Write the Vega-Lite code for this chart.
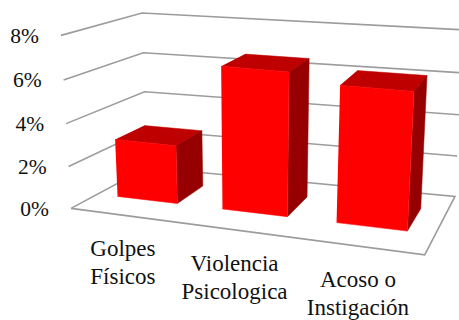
{
  "$schema": "https://vega.github.io/schema/vega-lite/v6.json",
  "width": 459,
  "height": 320,
  "padding": 0,
  "autosize": {"type": "fit", "contains": "padding"},
  "background": "white",
  "view": {"stroke": null},
  "datasets": {
    "bars": [
      {"category": "Golpes\nFísicos", "value": 2.8},
      {"category": "Violencia\nPsicologica", "value": 6.7},
      {"category": "Acoso o\nInstigación", "value": 6.3}
    ],
    "ticks": [{"level": 0}, {"level": 2}, {"level": 4}, {"level": 6}, {"level": 8}]
  },
  "encoding": {
    "x": {"field": "sx", "type": "quantitative", "scale": {"domain": [0, 459], "nice": false, "zero": false}, "axis": null},
    "y": {"field": "sy", "type": "quantitative", "scale": {"domain": [320, 0], "nice": false, "zero": false}, "axis": null}
  },
  "layer": [
    {
      "description": "Walls and floor: each level runs along the left wall and the back wall; level 0 also closes the floor",
      "data": {"name": "ticks"},
      "transform": [
        {"calculate": "[0,1,2,3,4]", "as": "vertex"},
        {"flatten": ["vertex"]},
        {"filter": "datum.level == 0 || datum.vertex <= 2"},
        {"calculate": "datum.vertex == 2 || datum.vertex == 3 ? 1 : 0", "as": "t"},
        {"calculate": "datum.vertex == 1 || datum.vertex == 2 ? 1 : 0", "as": "w"},
        {"calculate": "0.88*datum.t/(1-0.12*datum.t)", "as": "U"},
        {"calculate": "0.96*(datum.level/8)/(1-0.04*(datum.level/8))", "as": "H"},
        {"calculate": "(1-datum.H)*((1-datum.w)*((1-datum.U)*71+datum.U*424.7)+datum.w*((1-datum.U)*147+datum.U*455))+datum.H*((1-datum.w)*((1-datum.U)*61+datum.U*435)+datum.w*((1-datum.U)*142+datum.U*464))", "as": "sx"},
        {"calculate": "(1-datum.H)*((1-datum.w)*((1-datum.U)*209+datum.U*255.7)+datum.w*((1-datum.U)*168+datum.U*197))+datum.H*((1-datum.w)*((1-datum.U)*35.5+datum.U*68)+datum.w*((1-datum.U)*13+datum.U*30))", "as": "sy"}
      ],
      "mark": {"type": "line", "stroke": "#9c9c9c", "strokeWidth": 1.6, "clip": true},
      "encoding": {
        "detail": {"field": "level", "type": "nominal"},
        "order": {"field": "vertex", "type": "quantitative"}
      }
    },
    {
      "description": "Each bar is three filled faces projected from its value",
      "data": {"name": "bars"},
      "transform": [
        {"window": [{"op": "row_number", "as": "slot"}]},
        {"calculate": "['top','side','front']", "as": "face"},
        {"flatten": ["face"]},
        {"calculate": "[0,1,2,3]", "as": "vertex"},
        {"flatten": ["vertex"]},
        {"calculate": "(datum.slot-1+0.2)/3", "as": "t0"},
        {"calculate": "(datum.slot-0.22)/3", "as": "t1"},
        {"calculate": "datum.face == 'side' ? datum.t1 : (datum.vertex == 0 || datum.vertex == 3 ? datum.t0 : datum.t1)", "as": "t"},
        {"calculate": "datum.face == 'front' ? 0.35 : datum.face == 'side' ? (datum.vertex == 0 || datum.vertex == 3 ? 0.35 : 0.74) : (datum.vertex <= 1 ? 0.35 : 0.74)", "as": "w"},
        {"calculate": "datum.face == 'top' ? datum.value : (datum.vertex <= 1 ? 0 : datum.value)", "as": "level"},
        {"calculate": "0.88*datum.t/(1-0.12*datum.t)", "as": "U"},
        {"calculate": "0.96*(datum.level/8)/(1-0.04*(datum.level/8))", "as": "H"},
        {"calculate": "(1-datum.H)*((1-datum.w)*((1-datum.U)*71+datum.U*424.7)+datum.w*((1-datum.U)*147+datum.U*455))+datum.H*((1-datum.w)*((1-datum.U)*61+datum.U*435)+datum.w*((1-datum.U)*142+datum.U*464))", "as": "sx"},
        {"calculate": "(1-datum.H)*((1-datum.w)*((1-datum.U)*209+datum.U*255.7)+datum.w*((1-datum.U)*168+datum.U*197))+datum.H*((1-datum.w)*((1-datum.U)*35.5+datum.U*68)+datum.w*((1-datum.U)*13+datum.U*30))", "as": "sy"}
      ],
      "mark": {"type": "line", "strokeWidth": 0.5, "strokeJoin": "round"},
      "encoding": {
        "detail": {"field": "slot", "type": "nominal"},
        "order": {"field": "vertex", "type": "quantitative"},
        "fill": {"field": "face", "type": "nominal", "legend": null, "scale": {"domain": ["front", "side", "top"], "range": ["#ff0000", "#960000", "#be0000"]}},
        "stroke": {"field": "face", "type": "nominal", "legend": null, "scale": {"domain": ["front", "side", "top"], "range": ["#ff0000", "#960000", "#be0000"]}}
      }
    },
    {
      "description": "Percent labels follow the tilted front edge of the left wall",
      "data": {"name": "ticks"},
      "transform": [
        {"calculate": "datum.level + '%'", "as": "label"},
        {"calculate": "0.96*(datum.level/8)/(1-0.04*(datum.level/8))", "as": "H"},
        {"calculate": "(1-datum.H)*71+datum.H*61", "as": "sx"},
        {"calculate": "(1-datum.H)*209+datum.H*35.5", "as": "sy"}
      ],
      "mark": {"type": "text", "font": "Times, Tinos, Noto Serif, Nimbus Roman, FreeSerif, Noto Serif CJK SC, Liberation Serif", "fontSize": 21.5, "color": "#111111", "align": "right", "baseline": "middle", "dx": -22, "dy": 1.5},
      "encoding": {"text": {"field": "label", "type": "nominal"}}
    },
    {
      "description": "Category names hang below the front edge of the floor",
      "data": {"name": "bars"},
      "transform": [
        {"window": [{"op": "row_number", "as": "slot"}]},
        {"calculate": "(datum.slot-0.5)/3", "as": "t"},
        {"calculate": "0.86*datum.t/(1-0.14*datum.t)", "as": "U"},
        {"calculate": "(1-datum.U)*71+datum.U*424.7", "as": "sx"},
        {"calculate": "(1-datum.U)*209+datum.U*255.7", "as": "sy"}
      ],
      "mark": {"type": "text", "font": "Times, Tinos, Noto Serif, Nimbus Roman, FreeSerif, Noto Serif CJK SC, Liberation Serif", "fontSize": 23, "color": "#111111", "align": "center", "baseline": "alphabetic", "lineBreak": "\n", "lineHeight": 28, "dy": 41},
      "encoding": {"text": {"field": "category", "type": "nominal"}}
    }
  ]
}
